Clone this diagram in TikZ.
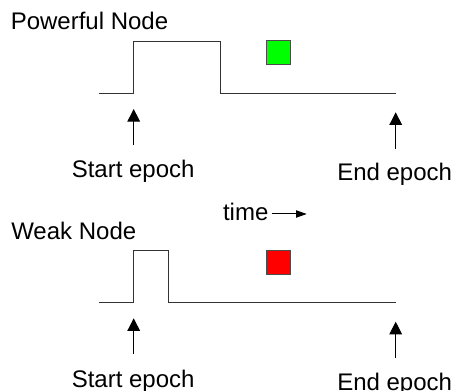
\documentclass[tikz,border=0pt]{standalone}
\usepackage{fontspec}
\setmainfont{Liberation Sans}
\usetikzlibrary{arrows.meta}
\begin{document}
\begin{tikzpicture}[x=0.75pt,y=-0.75pt,
  label/.style={inner sep=0pt,anchor=base west,font=\fontsize{18}{21}\selectfont},
  wave/.style={draw=black!80,line width=0.8pt},
  marker/.style={draw=black!70,line width=0.6pt,minimum width=18.5pt,minimum height=18pt,inner sep=0pt},
  epocharrow/.style={line width=0.75pt,-{Triangle[width=9.5pt,length=9.5pt]}},
  timearrow/.style={line width=0.75pt,-{Triangle[width=5.5pt,length=8pt]}}]
\useasboundingbox (0,0) rectangle (456,391);

% ---- powerful node ----
\node[label] (pname) at (10.5,29.3) {Powerful Node};
\draw[wave] (98.7,93.3) -- (133.7,93.3) -- (133.7,41.3) -- (220.7,41.3) -- (220.7,93.3) -- (395.7,93.3);
\node[marker,fill={rgb,255:red,0;green,255;blue,0}] (good) at (278.5,52.5) {};
\coordinate (ps0) at (133.7,145.3);
\coordinate (ps1) at (133.7,109);
\coordinate (pe0) at (395.7,149);
\coordinate (pe1) at (395.7,112.3);
\draw[epocharrow] (ps0) -- (ps1);
\draw[epocharrow] (pe0) -- (pe1);
\node[label] (pstart) at (71.5,177.7) {Start epoch};
\node[label] (pend) at (337,181) {End epoch};

% ---- time direction ----
\node[label] (time) at (222.8,221) {time};
\coordinate (t0) at (271.7,214);
\coordinate (t1) at (306.7,214);
\draw[timearrow] (t0) -- (t1);

% ---- weak node ----
\node[label] (wname) at (11,239.3) {Weak Node};
\draw[wave] (98.7,302.3) -- (133.7,302.3) -- (133.7,250.7) -- (168.7,250.7) -- (168.7,302.3) -- (395.7,302.3);
\node[marker,fill={rgb,255:red,255;green,0;blue,0}] (bad) at (278.4,262.2) {};
\coordinate (ws0) at (133.7,354.3);
\coordinate (ws1) at (133.7,318.3);
\coordinate (we0) at (395.7,358.3);
\coordinate (we1) at (395.7,321.7);
\draw[epocharrow] (ws0) -- (ws1);
\draw[epocharrow] (we0) -- (we1);
\node[label] (wstart) at (71.5,387.3) {Start epoch};
\node[label] (wend) at (337,390) {End epoch};
\end{tikzpicture}
\end{document}
